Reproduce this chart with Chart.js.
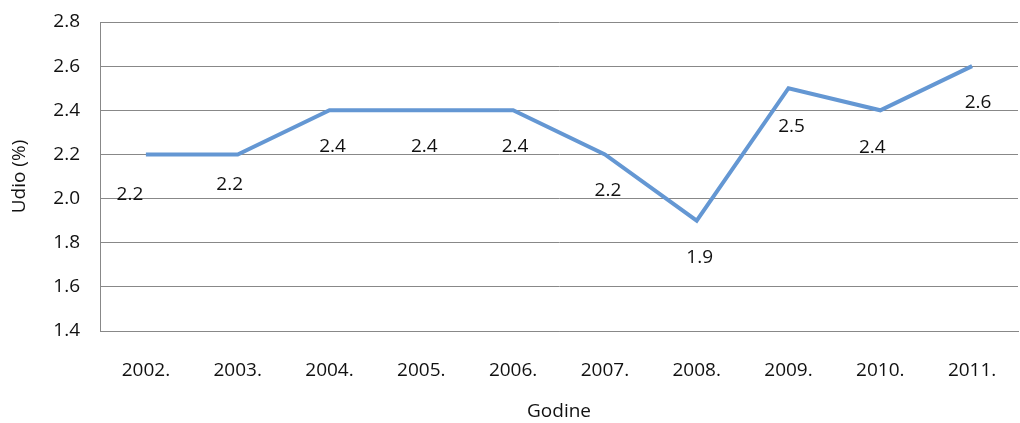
<!DOCTYPE html>
<html><head><meta charset="utf-8">
<script src="https://cdn.jsdelivr.net/npm/chart.js@4"></script>
<style>html,body{margin:0;padding:0;background:#fff}#wrap{width:1020px;height:423px}</style>
</head><body><div id="wrap"><canvas id="c" width="1020" height="423"></canvas></div>
<script>
const categories = ['2002.','2003.','2004.','2005.','2006.','2007.','2008.','2009.','2010.','2011.'];
const values = [2.2, 2.2, 2.4, 2.4, 2.4, 2.2, 1.9, 2.5, 2.4, 2.6];
const yTicks = [1.4, 1.6, 1.8, 2.0, 2.2, 2.4, 2.6, 2.8];
const labelDx = [-16, -8, 3, 3, 2, 3, 3, 3, -8, 6];
const labelDy = [40, 30, 36, 36, 36, 36, 37, 38, 37, 36];
const FONT = "'Open Sans', sans-serif";
const FS = 19;
const labelPlugin = {
  id: 'vlabels',
  afterDatasetsDraw(chart) {
    const ctx = chart.ctx;
    const meta = chart.getDatasetMeta(0);
    ctx.save();
    ctx.font = FS + "px " + FONT;
    ctx.fillStyle = '#111';
    ctx.textAlign = 'center';
    ctx.textBaseline = 'middle';
    meta.data.forEach((p, i) => {
      ctx.fillText(values[i].toFixed(1), p.x + labelDx[i], p.y + labelDy[i]);
    });
    ctx.restore();
  }
};
new Chart(document.getElementById('c'), {
  type: 'line',
  data: { labels: categories, datasets: [{ data: values, borderColor: '#6497d3', borderWidth: 4, pointRadius: 0, tension: 0, fill: false }] },
  options: {
    responsive: false, animation: false,
    plugins: { legend: { display: false }, tooltip: { enabled: false } },
    layout: { padding: { top: 22, right: 2, left: 0, bottom: 0 } },
    scales: {
      x: {
        offset: true,
        grid: { display: false, drawTicks: false },
        border: { display: true, color: '#888', width: 1 },
        ticks: { color: '#111', font: { family: FONT, size: FS }, padding: 28, maxRotation: 0 },
        title: { display: true, text: 'Godine', color: '#111', font: { family: FONT, size: FS }, padding: 0 },
        afterFit(s) { s.height = 92; s.paddingLeft = 0; s.paddingRight = 0; }
      },
      y: {
        min: 1.4, max: 2.8,
        afterBuildTicks(s) { s.ticks = yTicks.map(v => ({ value: v })); },
        grid: { color: '#888', drawTicks: false, lineWidth: 1 },
        border: { display: true, color: '#888', width: 1 },
        ticks: { color: '#111', font: { family: FONT, size: FS }, padding: 20, callback: v => v.toFixed(1) },
        title: { display: true, text: 'Udio (%)', color: '#111', font: { family: FONT, size: FS }, padding: 8 },
        afterFit(s) { s.width = 100; s.paddingTop = 0; s.paddingBottom = 0; }
      }
    }
  },
  plugins: [labelPlugin]
});
</script></body></html>
